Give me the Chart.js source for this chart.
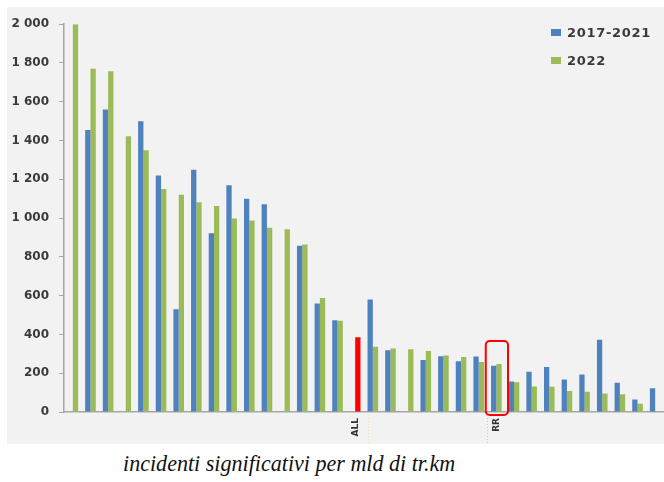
<!DOCTYPE html>
<html>
<head>
<meta charset="utf-8">
<script src="https://cdn.jsdelivr.net/npm/chart.js@4"></script>
<style>
  html, body { margin: 0; padding: 0; background: #ffffff; }
  body { width: 664px; height: 482px; position: relative; overflow: hidden; }
  #panel { position: absolute; left: 7px; top: 7px; width: 657px; height: 437px; background: #f2f2f2; }
  #chart { position: absolute; left: 0; top: 0; }
  .leg { position: absolute; left: 544px; font: bold 13px "DejaVu Sans", sans-serif; color: #3a3a3a; letter-spacing: 0.7px; white-space: nowrap; }
  .leg i { display: inline-block; width: 10px; height: 7px; margin-right: 6px; vertical-align: 1px; }
  #caption { position: absolute; left: 123px; top: 451px; font: italic 23px "Liberation Serif", serif; color: #111; white-space: nowrap; transform-origin: 0 0; }
</style>
</head>
<body>
<div id="panel">
  <canvas id="chart" width="657" height="437"></canvas>
  <div class="leg" style="top:18px"><i style="background:#4f81bd"></i>2017-2021</div>
  <div class="leg" style="top:46px"><i style="background:#9bbb59"></i>2022</div>
</div>
<div id="caption">incidenti significativi per mld di tr.km</div>
<script>
// Significant accidents per billion train-km, by country/network
const categories = ['', '', '', '', '', '', '', '', '', '', '', '', '', '', '', '', 'ALL',
                    '', '', '', '', '', '', '', 'RR', '', '', '', '', '', '', '', '', ''];

const avg2017_2021 = [null, 1455, 1560, null, 1500, 1220, 530, 1250, 922, 1170, 1100, 1072, null, 857,
                      560, 473, null, 580, 318, null, 268, 288, 262, 286, 238, 157, 208, 232, 167, 193,
                      373, 151, 64, 123];

const year2022 = [2000, 1770, 1757, 1422, 1350, 1150, 1120, 1082, 1062, 998, 987, 950, 943, 864,
                  588, 470, 385, 336, 328, 324, 314, 292, 284, 258, 247, 153, 132, 130, 108, 104,
                  96, 92, 42, null];

const yTicks = [0, 200, 400, 600, 800, 1000, 1200, 1400, 1600, 1800, 2000];

const BLUE = '#4f81bd', GREEN = '#9bbb59', RED = '#ff0000';
const highlightLabel = 'RR';
const totalLabel = 'ALL';

const colors2022 = categories.map(c => c === totalLabel ? RED : GREEN);

// Rounded outline around the highlighted network, plus faint dotted guides below the axis
const highlightPlugin = {
  id: 'highlight',
  afterDatasetsDraw(chart) {
    const { ctx, scales: { x, y } } = chart;
    const cat = (x.right - x.left) / categories.length;
    ctx.save();
    // dotted guides
    ctx.lineWidth = 1;
    ctx.setLineDash([1, 2]);
    const base = y.getPixelForValue(0);
    const iR = categories.indexOf(highlightLabel);
    const iA = categories.indexOf(totalLabel);
    ctx.strokeStyle = '#b9cce4';
    let gx = Math.round(x.getPixelForValue(iR) - cat * 0.55) + 0.5;
    ctx.beginPath(); ctx.moveTo(gx, base + 3); ctx.lineTo(gx, chart.height); ctx.stroke();
    ctx.strokeStyle = '#f3e3a0';
    gx = Math.round(x.getPixelForValue(iA) + cat * 0.75) + 0.5;
    ctx.beginPath(); ctx.moveTo(gx, base + 3); ctx.lineTo(gx, chart.height); ctx.stroke();
    ctx.setLineDash([]);
    // red box
    const cx = x.getPixelForValue(iR);
    const topVal = Math.max(avg2017_2021[iR] || 0, year2022[iR] || 0);
    const left = cx - cat * 0.6, right = cx + cat * 0.66;
    const top = y.getPixelForValue(topVal) - 23, bottom = base + 3;
    ctx.strokeStyle = RED;
    ctx.lineWidth = 2;
    ctx.beginPath();
    ctx.roundRect(left, top, right - left, bottom - top, 4);
    ctx.stroke();
    ctx.restore();
  }
};

const thousands = v => String(v).replace(/\B(?=(\d{3})+(?!\d))/g, ' ');

new Chart(document.getElementById('chart'), {
  type: 'bar',
  data: {
    labels: categories,
    datasets: [
      { label: '2017-2021', data: avg2017_2021, backgroundColor: BLUE, borderWidth: 0 },
      { label: '2022', data: year2022, backgroundColor: colors2022, borderWidth: 0 }
    ]
  },
  options: {
    responsive: false,
    animation: false,
    devicePixelRatio: 1,
    layout: { padding: { top: 11, right: 0, left: 0, bottom: 0 } },
    datasets: { bar: { categoryPercentage: 0.6, barPercentage: 1.0, grouped: true } },
    plugins: { legend: { display: false }, tooltip: { enabled: false } },
    scales: {
      x: {
        grid: { display: false, drawTicks: false },
        border: { color: '#a6a6a6', width: 1.5 },
        ticks: {
          autoSkip: false, maxRotation: 90, minRotation: 90, padding: 6,
          color: '#333', font: { family: 'DejaVu Sans', size: 9, weight: 'bold' }
        },
        afterFit(s) { s.height = 32; s.paddingLeft = 0; s.paddingRight = 0; }
      },
      y: {
        min: 0, max: 2000,
        afterBuildTicks(s) { s.ticks = yTicks.map(v => ({ value: v })); },
        grid: { drawOnChartArea: false, tickLength: 5, color: '#a6a6a6' },
        border: { color: '#a6a6a6', width: 1.5 },
        ticks: {
          padding: 10, color: '#3a3a3a',
          font: { family: 'DejaVu Sans', size: 12, weight: 'bold' },
          callback: v => thousands(v)
        },
        afterFit(s) { s.width = 57; }
      }
    }
  },
  plugins: [highlightPlugin]
});

// keep the caption at its set line width
const cap = document.getElementById('caption');
cap.style.transform = 'scaleX(' + (332 / cap.offsetWidth) + ')';
</script>
</body>
</html>
